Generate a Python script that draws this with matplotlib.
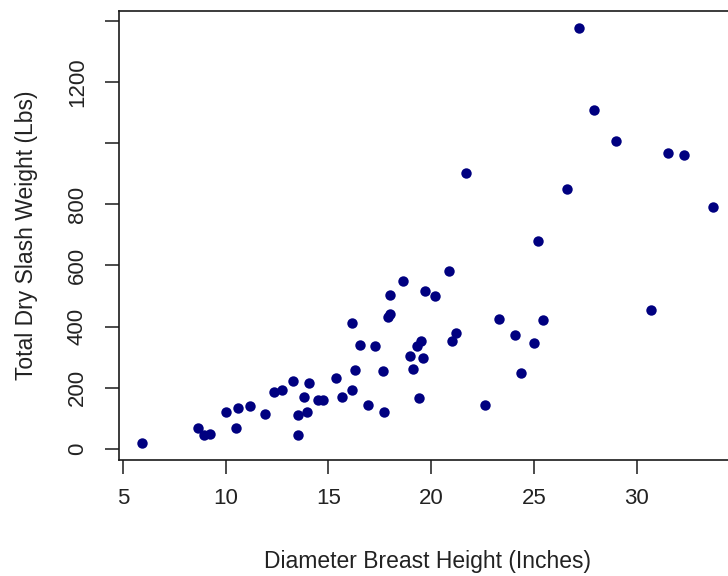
import numpy as np
import matplotlib
matplotlib.use("Agg")
import matplotlib.pyplot as plt

# diameter at breast height (inches) and total dry slash weight (lbs)
dbh = [5.91, 8.66, 8.96, 9.23, 10.01, 10.58, 11.17, 10.50, 11.91, 12.35,
       12.75, 13.27, 14.07, 13.79, 13.52, 13.95, 13.52, 14.50, 14.75, 15.37,
       15.64, 16.29, 16.13, 16.91, 17.64, 17.69, 18.63, 17.98, 19.68, 20.18,
       20.85, 16.13, 18.00, 17.90, 16.55, 17.28, 19.50, 19.30, 18.99, 19.62,
       19.13, 19.40, 21.19, 21.00, 23.30, 24.08, 25.00, 25.44, 24.37, 22.63,
       21.69, 26.60, 25.20, 27.20, 27.92, 28.99, 31.53, 32.31, 33.73, 30.69]
weight = [20, 67, 46, 48, 119, 134, 139, 67, 114, 186,
          191, 221, 216, 168, 110, 120, 44, 158, 158, 230,
          168, 259, 192, 144, 254, 120, 550, 503, 517, 499,
          583, 412, 440, 430, 339, 335, 351, 336, 302, 298,
          262, 167, 380, 354, 425, 373, 345, 420, 249, 144,
          903, 851, 681, 1378, 1110, 1009, 967, 962, 790, 454]

x_ticks = [5, 10, 15, 20, 25, 30]
y_ticks = [0, 200, 400, 600, 800, 1000, 1200, 1400]
y_labels = ["0", "200", "400", "600", "800", "", "1200", ""]

plt.rcParams['font.family'] = ['Liberation Sans', 'DejaVu Sans']
txt = '#222222'

fig = plt.figure(figsize=(7.28, 5.76), dpi=100)
# right edge of the box runs off the canvas, like the reference
ax = fig.add_axes([118.5 / 728, 1 - 460 / 576, 618 / 728, 449 / 576])

ax.plot(dbh, weight, 'o', color='#000080', markersize=7.5, markeredgewidth=0)

ax.set_xlim(4.78, 34.86)
ax.set_ylim(-37, 1433)
ax.set_xticks(x_ticks)
ax.set_yticks(y_ticks)
ax.set_yticklabels(y_labels, rotation=90, va='center')

for s in ax.spines.values():
    s.set_linewidth(1.2)
    s.set_color('#1a1a1a')

ax.tick_params(direction='out', length=10, width=1.1, color='#1a1a1a',
               labelsize=16, labelcolor=txt)
ax.tick_params(axis='x', pad=10)
ax.tick_params(axis='y', pad=12)

ax.set_xlabel("Diameter Breast Height (Inches)", fontsize=16.5, color=txt, labelpad=30)
ax.set_ylabel("Total Dry Slash Weight (Lbs)", fontsize=16.5, color=txt, labelpad=21)

fig.savefig("out.png", dpi=100)
